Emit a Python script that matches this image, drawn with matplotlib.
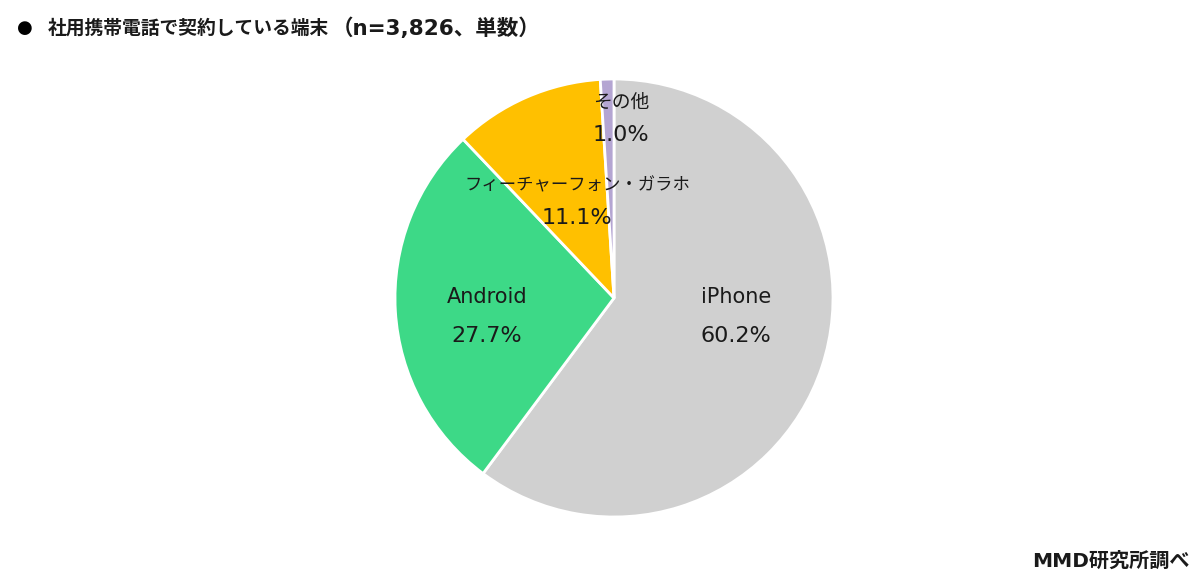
import matplotlib
matplotlib.use('Agg')
import matplotlib.pyplot as plt

plt.rcParams['font.family'] = ['DejaVu Sans', 'Noto Sans CJK JP']

# data
labels = ['iPhone', 'Android', 'フィーチャーフォン・ガラホ', 'その他']
values = [60.2, 27.7, 11.1, 1.0]
colors = ['#d0d0d0', '#3dd987', '#ffc000', '#b4a5d2']

title_main = '社用携帯電話で契約している端末'
title_note = '（n=3,826、単数）'
source = 'MMD研究所調べ'

W, H = 1200, 586
cx, cy, r = 614, 298, 219

# label positions in pixels (x, name y, value y)
label_px = [(736, 297, 336), (487, 297, 336), (577, 185, 218), (621, 102, 135)]
name_size = [15, 15, 12.5, 13.5]

fig = plt.figure(figsize=(W / 100, H / 100), dpi=100)
fig.patch.set_facecolor('white')

ax = fig.add_axes([(cx - r) / W, (H - cy - r) / H, 2 * r / W, 2 * r / H])
ax.pie(values, colors=colors, startangle=90, counterclock=False,
       wedgeprops=dict(edgecolor='white', linewidth=2))
ax.set_xlim(-1, 1)
ax.set_ylim(-1, 1)
ax.set_aspect('equal')
ax.axis('off')

for lab, v, (x, ny, vy), fs in zip(labels, values, label_px, name_size):
    ax.text((x - cx) / r, (cy - ny) / r, lab, ha='center', va='center',
            fontsize=fs, color='#1a1a1a')
    ax.text((x - cx) / r, (cy - vy) / r, f'{v:.1f}%', ha='center', va='center',
            fontsize=16, color='#1a1a1a')

# title & source
fig.text(17 / W, 1 - 28 / H, '●', fontsize=13, va='center', ha='left', color='black')
fig.text(48 / W, 1 - 28 / H, title_main, fontsize=13.5, fontweight='bold',
         va='center', ha='left', color='#1a1a1a')
fig.text(332 / W, 1 - 28 / H, title_note, fontsize=15.5, fontweight='bold',
         va='center', ha='left', color='#1a1a1a')
fig.text(1190 / W, 1 - 561 / H, source, fontsize=14.5, fontweight='bold',
         va='center', ha='right', color='#1a1a1a')

fig.savefig('out.png', dpi=100, facecolor='white')
